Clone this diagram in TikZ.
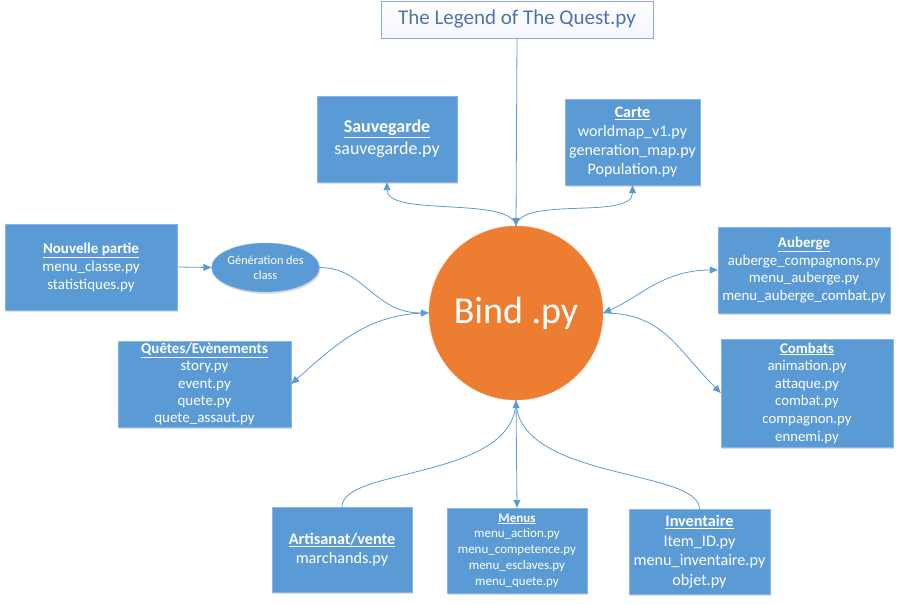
\documentclass[tikz,border=0pt]{standalone}
\usepackage{fontspec}
\setmainfont{Carlito}
\usetikzlibrary{arrows.meta,shapes.geometric,shadows,positioning}
\definecolor{boxblue}{HTML}{5B9BD5}
\definecolor{boxedge}{HTML}{8EB4E3}
\definecolor{bindorange}{HTML}{ED7D31}
\definecolor{titletext}{HTML}{4F73AE}
\definecolor{titleedge}{HTML}{8FAADC}
\newcommand{\head}[1]{\underline{\textbf{#1}}}
\tikzstyle{filebox}=[draw=boxedge, fill=boxblue, text=white, align=center, inner sep=1pt, drop shadow={opacity=.25, shadow xshift=1pt, shadow yshift=-2pt}]
\tikzstyle{link}=[draw=boxblue, line width=.8pt]
\tikzstyle{tip}=[-{Triangle[length=8pt,width=7pt]}]
\tikzstyle{tips}=[{Triangle[length=8pt,width=7pt]}-{Triangle[length=8pt,width=7pt]}]

\begin{document}
\begin{tikzpicture}[x=1pt, y=-1pt]
\useasboundingbox (0,0) rectangle (900,603);

\node[draw=titleedge, top color=white, bottom color=blue!4, text=titletext, minimum width=272pt, minimum height=37pt, font=\fontsize{21}{25}\selectfont] (title) at (517,19.5) {The Legend of The Quest.py};

\node[filebox, minimum width=140pt, minimum height=86pt, font=\fontsize{18}{22}\selectfont] (save) at (387,139) {\head{Sauvegarde}\\sauvegarde.py};
\node[filebox, minimum width=135pt, minimum height=86pt, font=\fontsize{16}{18.7}\selectfont] (carte) at (632.5,142) {\head{Carte}\\worldmap\_v1.py\\generation\_map.py\\Population.py};
\node[filebox, minimum width=172pt, minimum height=86pt, font=\fontsize{15}{18}\selectfont] (nouvelle) at (91,267) {\head{Nouvelle partie}\\menu\_classe.py\\statistiques.py};
\node[ellipse, draw=boxedge, fill=boxblue, text=white, align=center, minimum width=101pt, minimum height=49pt, inner sep=0pt, font=\fontsize{12.3}{15}\selectfont, drop shadow={opacity=.25, shadow xshift=1pt, shadow yshift=-2pt}] (gen) at (265.5,267.5) {Génération des\\class};
\node[filebox, minimum width=173pt, minimum height=86pt, font=\fontsize{15}{17.3}\selectfont] (quetes) at (204.5,384) {\head{Quêtes/Evènements}\\story.py\\event.py\\quete.py\\quete\_assaut.py};

\node[circle, fill=bindorange, draw=bindorange!80!white, text=white, minimum size=174pt, inner sep=0pt, font=\fontsize{38}{44}\selectfont] (bind) at (516,313) {Bind .py};

\node[filebox, minimum width=172pt, minimum height=86pt, font=\fontsize{14.9}{17.7}\selectfont] (auberge) at (804,270) {\head{Auberge}\\auberge\_compagnons.py\\menu\_auberge.py\\menu\_auberge\_combat.py};
\node[filebox, minimum width=172pt, minimum height=108pt, font=\fontsize{14.8}{17.6}\selectfont] (combats) at (807,393) {\head{Combats}\\animation.py\\attaque.py\\combat.py\\compagnon.py\\ennemi.py};

\node[filebox, minimum width=140pt, minimum height=85pt, font=\fontsize{16.2}{19}\selectfont] (artisanat) at (342,549.5) {\head{Artisanat/vente}\\marchands.py};
\node[filebox, minimum width=140pt, minimum height=85pt, font=\fontsize{13}{15.8}\selectfont] (menus) at (517,550.5) {\head{Menus}\\menu\_action.py\\menu\_competence.py\\menu\_esclaves.py\\menu\_quete.py};
\node[filebox, minimum width=141pt, minimum height=85pt, font=\fontsize{16.2}{19.5}\selectfont] (inventaire) at (699.5,551.5) {\head{Inventaire}\\Item\_ID.py\\menu\_inventaire.py\\objet.py};

% connectors
\draw[link, tip] (title.south) -- (bind.north);
\draw[link, tip] (bind.north) .. controls +(-5,-30) and +(0,35) .. (save.south);
\draw[link, tip] (bind.north) .. controls +(5,-30) and +(0,35) .. (carte.south);
\draw[link, tip] (nouvelle.east) -- (gen.west);
\draw[link, tip] (gen.east) .. controls +(45,0) and +(-55,0) .. (bind.west);
\draw[link, tip] (bind.west) .. controls +(-60,0) and +(45,-40) .. (quetes.east);
\draw[link, tips] (bind.east) .. controls +(35,-15) and +(-55,0) .. (auberge.west);
\draw[link, tip] (bind.east) .. controls +(60,0) and +(-45,-45) .. (combats.west);
\draw[link, tips] (bind.south) -- (menus.north);
\draw[link] (artisanat.north) .. controls +(0,-40) and +(0,80) .. (bind.south);
\draw[link] (inventaire.north) .. controls +(0,-40) and +(0,80) .. (bind.south);
\end{tikzpicture}
\end{document}
